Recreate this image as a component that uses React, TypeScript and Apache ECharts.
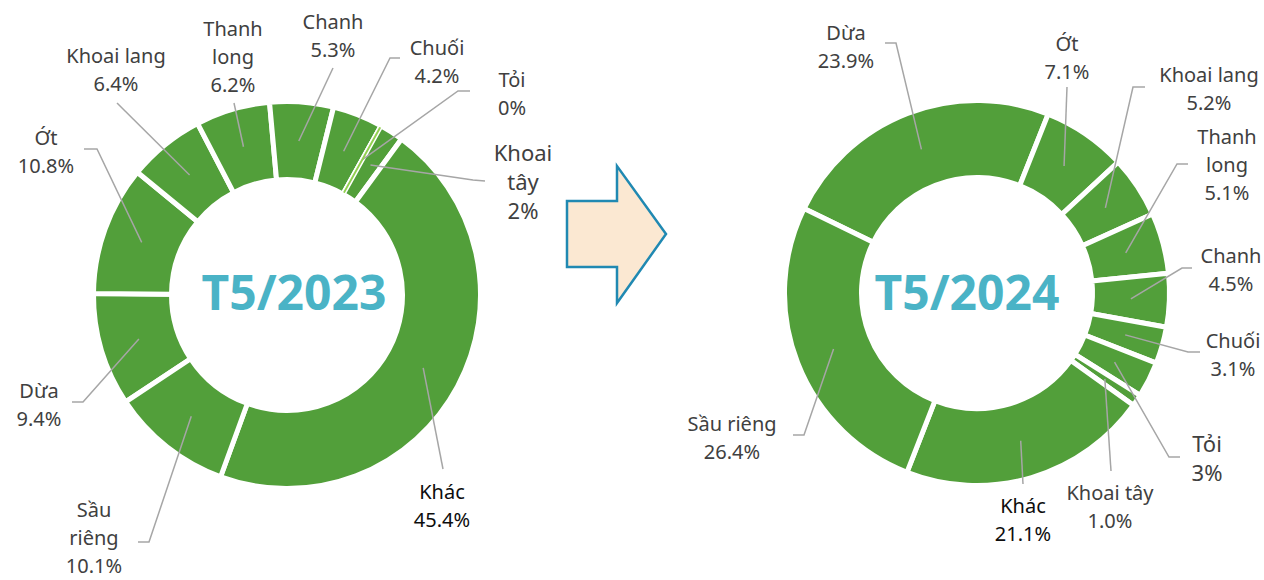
import React, { useEffect, useRef } from "react";
import * as echarts from "echarts";

// ---------- data ----------
const categories = ["Dừa", "Ớt", "Khoai lang", "Thanh long", "Chanh", "Chuối", "Tỏi", "Khoai tây", "Khác", "Sầu riêng"];
const values2023 = [9.4, 10.8, 6.4, 6.2, 5.3, 4.2, 0, 2, 45.4, 10.1];
const values2024 = [23.9, 7.1, 5.2, 5.1, 4.5, 3.1, 3, 1.0, 21.1, 26.4];
const pctText2023 = ["9.4%", "10.8%", "6.4%", "6.2%", "5.3%", "4.2%", "0%", "2%", "45.4%", "10.1%"];
const pctText2024 = ["23.9%", "7.1%", "5.2%", "5.1%", "4.5%", "3.1%", "3%", "1.0%", "21.1%", "26.4%"];
const labelNames2023 = ["Dừa", "Ớt", "Khoai lang", "Thanh\nlong", "Chanh", "Chuối", "Tỏi", "Khoai\ntây", "Khác", "Sầu\nriêng"];
const labelNames2024 = ["Dừa", "Ớt", "Khoai lang", "Thanh\nlong", "Chanh", "Chuối", "Tỏi", "Khoai tây", "Khác", "Sầu riêng"];
const titles = ["T5/2023", "T5/2024"];

// ---------- layout / style ----------
const GREEN = "#529F3A";
const LIGHT_GREEN = "#92D050";
const TEXT = "#404040";
const FONT = '"Noto Sans", sans-serif';

// label positions: [labelX, labelY, lineEndX, lineEndY, elbowX, elbowY]
const labelPos2023 = [
  [39, 404, 72, 402, 83, 402],
  [46, 151, 84, 149, 97, 149],
  [116, 69, 117, 103, 117, 103],
  [233, 56, 234, 103, 234, 103],
  [333, 35, 333, 68, 333, 68],
  [437, 61, 400, 58, 390, 58],
  [512, 93, 470, 91, 458, 91],
  [523, 181, 485, 181, 473, 180],
  [442, 505, 443, 469, 443, 469],
  [94, 537, 138, 542, 149, 542],
];
const labelPos2024 = [
  [846, 46, 885, 43, 896, 43],
  [1067, 57, 1067, 87, 1067, 87],
  [1209, 88, 1145, 87, 1133, 87],
  [1227, 164, 1188, 164, 1177, 164],
  [1231, 269, 1192, 268, 1182, 268],
  [1233, 354, 1200, 352, 1188, 352],
  [1207, 457, 1180, 457, 1169, 457],
  [1110, 506, 1111, 471, 1111, 471],
  [1023, 519, 1023, 484, 1023, 484],
  [732, 437, 793, 435, 804, 435],
];

const charts = [
  {
    values: values2023, pct: pctText2023, names: labelNames2023, pos: labelPos2023,
    center: [287, 295], radius: [115.5, 193.5], startAngle: 213.5, title: [294, 291], big: [7],
  },
  {
    values: values2024, pct: pctText2024, names: labelNames2024, pos: labelPos2024,
    center: [977, 293], radius: [115.5, 192.5], startAngle: 154, title: [967, 291], big: [6],
  },
];

function midAnchors(values: number[], startAngle: number, center: number[], radius: number[]) {
  const total = values.reduce((s, v) => s + v, 0);
  const rMid = (radius[0] + radius[1]) / 2;
  let a = 90 - startAngle; // clockwise degrees from 12 o'clock
  return values.map((v) => {
    const w = (v / total) * 360;
    const mid = ((a + w / 2) * Math.PI) / 180;
    a += w;
    return [center[0] + rMid * Math.sin(mid), center[1] - rMid * Math.cos(mid)];
  });
}

function buildSeries(c: any) {
  const anchors = midAnchors(c.values, c.startAngle, c.center, c.radius);
  // filled ring with white separators
  const ring: any = {
    type: "pie",
    center: c.center,
    radius: c.radius,
    startAngle: c.startAngle,
    clockwise: true,
    silent: true,
    z: 2,
    itemStyle: { color: GREEN, borderColor: "#ffffff", borderWidth: 5 },
    label: { show: false },
    labelLine: { show: false },
    data: c.values.map((v: number, i: number) => ({ name: categories[i], value: v })),
  };
  // transparent overlay carrying labels + leader lines (drawn above the ring)
  const overlay: any = {
    type: "pie",
    center: c.center,
    radius: [c.radius[0] + 2.5, c.radius[1] - 2.5],
    startAngle: c.startAngle,
    clockwise: true,
    avoidLabelOverlap: false,
    silent: true,
    z: 4,
    itemStyle: { color: "rgba(0,0,0,0)", borderWidth: 0 },
    label: {
      show: true,
      position: "outside",
      fontFamily: FONT,
      fontSize: 20,
      lineHeight: 28,
      color: TEXT,
      align: "center",
      formatter: (p: any) => `${c.names[p.dataIndex]}\n${c.pct[p.dataIndex]}`,
    },
    labelLine: { show: true, length: 10, length2: 10, smooth: false, lineStyle: { color: "#A6A6A6", width: 1.5 } },
    labelLayout: (p: any) => {
      const i = p.dataIndex;
      const L = c.pos[i];
      return {
        x: L[0],
        y: L[1],
        align: "center",
        verticalAlign: "middle",
        labelLinePoints: [anchors[i], [L[4], L[5]], [L[2], L[3]]],
      };
    },
    data: c.values.map((v: number, i: number) => {
      const label: any = {};
      if (c.big.indexOf(i) >= 0) {
        label.fontSize = 22;
        label.lineHeight = 29;
      }
      if (categories[i] === "Khác") label.color = "#0D0D0D";
      const item: any = { name: categories[i], value: v, label };
      if (v === 0) item.itemStyle = { color: "rgba(0,0,0,0)", borderColor: LIGHT_GREEN, borderWidth: 2 };
      return item;
    }),
  };
  return [ring, overlay];
}

export default function App() {
  const ref = useRef<HTMLDivElement>(null);
  useEffect(() => {
    document.body.style.margin = "0";
    if (!ref.current) return;
    const chart = echarts.init(ref.current, null, { renderer: "svg" });
    const series: any[] = [];
    charts.forEach((c) => series.push(...buildSeries(c)));
    const graphic: any[] = [
      {
        type: "polygon",
        silent: true,
        shape: {
          points: [
            [567, 201], [617, 201], [617, 166], [666, 234], [617, 303], [617, 267], [567, 267],
          ],
        },
        style: { fill: "#FBE8D2", stroke: "#2089B2", lineWidth: 2.5 },
      },
      ...charts.map((c, k) => ({
        type: "text",
        silent: true,
        x: c.title[0],
        y: c.title[1],
        style: {
          text: titles[k],
          font: `bold 48px ${FONT}`,
          fill: "#4AB3C6",
          align: "center",
          verticalAlign: "middle",
          textAlign: "center",
          textVerticalAlign: "middle",
        },
      })),
    ];
    chart.setOption({
      animation: false,
      backgroundColor: "#ffffff",
      series,
      graphic,
    });
    return () => chart.dispose();
  }, []);
  return <div ref={ref} style={{ width: 1264, height: 580 }} />;
}
